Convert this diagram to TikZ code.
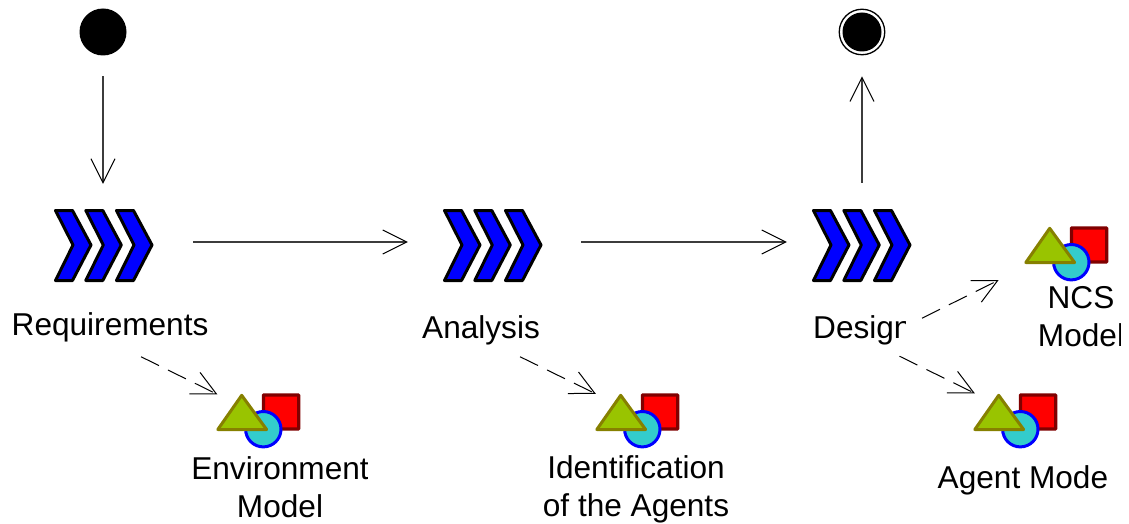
\documentclass[tikz,border=0pt]{standalone}
\usepackage{fontspec}
\setmainfont{Liberation Sans}
\usetikzlibrary{arrows.meta}
\definecolor{triFill}{RGB}{153,196,0}
\definecolor{triLine}{RGB}{134,128,0}
\definecolor{sqLine}{RGB}{128,0,0}
\definecolor{circFill}{RGB}{51,204,204}
\definecolor{chevFill}{RGB}{0,0,255}
\definecolor{flowLine}{RGB}{60,60,60}
\tikzset{
  lbl/.style={font=\fontsize{31.6}{38}\selectfont, inner sep=0pt, align=center, text=black},
  chevshape/.style={draw=black, fill=chevFill, line width=3pt, line join=round},
  anchorbox/.style={inner sep=0pt, minimum width=98pt, minimum height=73pt},
  iconbox/.style={inner sep=0pt, minimum width=84pt, minimum height=56pt},
  flow/.style={draw=flowLine, line width=1.3pt, -{Straight Barb[length=24pt,width=24pt,line width=1pt,black]}},
  dep/.style={draw=black, line width=1pt, dash pattern=on 20pt off 10pt, -{Straight Barb[length=24pt,width=24pt,line width=1pt]}}
}
\newcommand{\chevrons}[2]{%
  \begin{scope}[shift={(#1,0)}]
    \node[anchorbox] (#2) at (103,245.5) {};
    \foreach \d in {0,30.3,61}{
      \draw[chevshape, shift={(\d,0)}] (55.5,210.5) -- (72.5,210.5) -- (91,245) -- (72.5,280.5) -- (55.5,280.5) -- (73,245) -- cycle;
    }
  \end{scope}}
\newcommand{\modelicon}[3]{%
  \begin{scope}[shift={(#1,#2)}]
    \node[iconbox] (#3) at (258.5,415) {};
    \draw[draw=sqLine, fill=red, line width=3.2pt, rounded corners=0.5pt] (263.4,395) rectangle (298.7,429);
    \draw[draw=blue, fill=circFill, line width=3pt] (263.3,429.2) circle (17.7);
    \draw[draw=triLine, fill=triFill, line width=3pt, line join=round] (241.7,395.3) -- (266.6,429.5) -- (217.8,429.5) -- cycle;
  \end{scope}}
\begin{document}
\begin{tikzpicture}[x=1pt,y=-1pt]
\useasboundingbox (0,0) rectangle (1129,524);
\node[circle, fill=black, inner sep=0pt, minimum size=47pt] (start) at (103,32) {};
\node[circle, draw=black, fill=white, line width=1.3pt, inner sep=0pt, minimum size=45.5pt] (finish) at (862,32) {};
\node[circle, fill=black, inner sep=0pt, minimum size=39pt] (finishdot) at (862,32) {};
\chevrons{0}{req}
\chevrons{389}{ana}
\chevrons{758}{des}
\modelicon{0}{0}{envicon}
\modelicon{379}{0}{idicon}
\modelicon{757}{0}{agicon}
\modelicon{808}{-167}{ncsicon}
\node[lbl, anchor=base west] (reqlbl) at (11.5,335) {Requirements};
\node[lbl, anchor=base west] (analbl) at (422,338) {Analysis};
\begin{scope}
  \clip (800,300) rectangle (905,360);
  \node[lbl, anchor=base west] (deslbl) at (813,338) {Design};
\end{scope}
\begin{scope}
  \clip (180,450) rectangle (367.5,487) (180,487) rectangle (322,524);
  \node[lbl, anchor=base] (envlbl) at (280,517) {Environment\\Model};
\end{scope}
\begin{scope}
  \clip (530,450) rectangle (729,524);
  \node[lbl, anchor=base] (idlbl) at (636,516.5) {Identification\\of the Agents};
\end{scope}
\begin{scope}
  \clip (1020,275) rectangle (1120,360);
  \node[lbl, anchor=base] (ncslbl) at (1081,346) {NCS\\Model};
\end{scope}
\begin{scope}
  \clip (925,460) rectangle (1107.5,500);
  \node[lbl, anchor=base west] (aglbl) at (937.5,488) {Agent Model};
\end{scope}
\draw[flow] ([shift={(0,20.5)}]start.south) -- ([shift={(0,-25)}]req.north);
\draw[flow] ([shift={(41,-3.5)}]req.east) -- ([shift={(-35,-3.5)}]ana.west);
\draw[flow] ([shift={(40,-3.5)}]ana.east) -- ([shift={(-25,-3.5)}]des.west);
\draw[flow] ([shift={(1,-26)}]des.north) -- ([shift={(0,21)}]finish.south);
\draw[dep] ([shift={(31,15)}]reqlbl.south) -- ([shift={(1,7.5)}]envicon.north west);
\draw[dep] ([shift={(39,12)}]analbl.south) -- ([shift={(0.5,7)}]idicon.north west);
\draw[dep] ([shift={(61,36)}]des.south) -- ([shift={(-25.8,4)}]ncsicon.south west);
\draw[dep] ([shift={(38.5,74)}]des.south) -- ([shift={(1.5,6.5)}]agicon.north west);
\end{tikzpicture}
\end{document}
